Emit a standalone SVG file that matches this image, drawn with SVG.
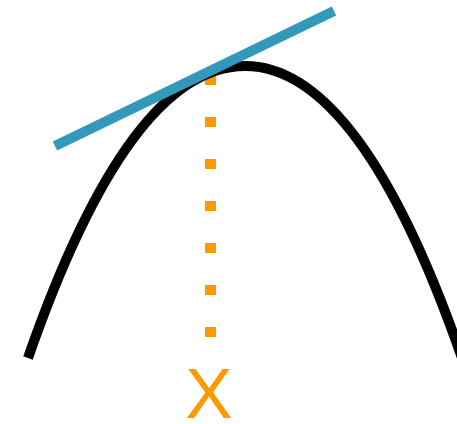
<svg xmlns="http://www.w3.org/2000/svg" width="457" height="424" viewBox="0 0 457 424">
  <style>
    .guide { stroke: #ff9900; stroke-width: 11; stroke-dasharray: 10 32; fill: none; }
    .curve { stroke: #000000; stroke-width: 10; fill: none; stroke-linecap: butt; }
    .tangent { stroke: #3399bb; stroke-width: 10; fill: none; stroke-linecap: butt; }
    .label { fill: #ff9900; font-family: "Liberation Sans", Arial, sans-serif; font-size: 71px; }
  </style>
  <rect width="457" height="424" fill="#ffffff"/>
  <g id="guide-line">
    <line class="guide" x1="210.5" y1="75" x2="210.5" y2="338"/>
  </g>
  <g id="curve">
    <path class="curve" d="M28,358 C95.7,163.3 168,66 245,66 C322,66 394.3,163.3 462,358"/>
  </g>
  <g id="tangent">
    <line class="tangent" x1="55" y1="146" x2="334" y2="11"/>
  </g>
  <g id="label-x">
    <text class="label" x="209" y="418" text-anchor="middle">X</text>
  </g>
</svg>
